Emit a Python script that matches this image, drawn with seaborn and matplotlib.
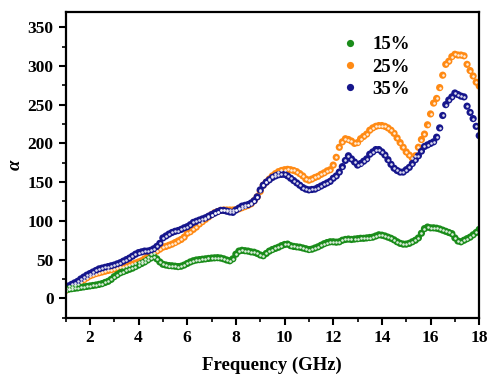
import numpy as np
import pandas as pd
import matplotlib
matplotlib.use("Agg")
import matplotlib.pyplot as plt
import seaborn as sns
from matplotlib.ticker import MultipleLocator

# ---- data (frequency grid 1..18 GHz, step 0.125) ----
freq_start, freq_step = 1.0, 0.125

alpha_15 = [
    11, 11.8, 12.5, 13, 13.5, 14.2, 14.8, 15.4,
    16, 16.6, 17.2, 18, 19, 20.5, 22, 24.5,
    28, 30.5, 33, 34.5, 36, 37.5, 39, 41,
    43, 45, 47, 49.5, 52, 54, 51, 47,
    44, 43, 42.3, 42, 41.5, 41, 41.5, 43,
    45, 47, 48.5, 49.5, 50, 50.5, 51, 51.5,
    52, 52.3, 52.5, 52, 51, 49.5, 48.5, 51,
    57, 61, 62, 61.5, 61, 60, 59.5, 58,
    56, 55, 58, 61, 63, 64.5, 66, 68,
    69.5, 70, 68, 67, 66.5, 66, 65, 64,
    63, 63.5, 65, 66.5, 68.5, 70.5, 72, 73,
    73, 72.5, 73, 75, 76, 76.5, 76, 76.5,
    77, 77.5, 77.5, 78, 78.5, 79, 80.5, 82,
    81.5, 80.5, 79, 77.5, 75.5, 73, 71, 70,
    70, 71, 73, 75, 78, 84, 90, 92,
    91, 91, 90.5, 89.5, 88, 86.5, 85, 83.5,
    78, 74, 73, 75, 77, 79, 82, 85,
    89,
]

alpha_25 = [
    10, 12.5, 15, 17, 19, 21.5, 24, 26.5,
    29, 30.5, 32, 33, 34, 35, 36, 37,
    38, 39, 40, 41, 42, 43, 44, 45.5,
    47, 48.5, 51, 54, 57, 59, 61, 63.5,
    66, 67, 68.5, 70, 72, 74, 76, 79,
    84, 86, 89, 92, 96, 99, 102, 105,
    108, 110.5, 112, 113.5, 114, 114, 114, 114,
    114.5, 115.5, 117, 118.5, 120, 122, 126, 131,
    138, 146, 150, 154, 158, 161, 163.5, 165,
    166, 166.5, 166, 165, 163.5, 161, 158, 154,
    152.5, 154, 156, 157.5, 160, 162, 164.5, 166,
    172, 182, 195, 202, 206, 205, 203, 200,
    201, 206, 209, 212, 217, 220, 222, 223,
    223, 222, 220, 217, 213, 207, 201, 195,
    189, 185, 181, 184, 195, 205, 212, 224,
    238, 252, 258, 272, 288, 302, 306, 312,
    315, 314, 314, 313, 302, 294, 287, 279,
    274,
]

alpha_35 = [
    14, 16, 18, 20, 22, 25, 27.5, 30,
    32, 34, 36, 38, 39, 40, 41, 42,
    43, 44.5, 46, 48, 50, 52, 54.5, 57,
    59, 60, 61, 61, 62, 64, 67, 71,
    78, 80.5, 83, 85, 86.5, 87.5, 89, 91,
    92.5, 95, 98, 99.5, 101, 102.5, 104, 106,
    108, 110, 112, 113.5, 113.5, 112.5, 111.5, 111,
    114, 116.5, 119, 120, 121, 123, 126, 131,
    140, 146, 150, 153, 156, 158, 159.5, 160,
    160, 158, 155, 152, 149, 146, 143, 141,
    140, 140.5, 141, 143, 145, 147, 149, 151,
    155, 158, 163, 170, 178, 184, 180, 176,
    172, 174, 177, 180, 186, 189, 192, 192,
    189, 185, 179, 173, 168, 165, 163, 163,
    166, 169, 174, 179, 184, 190, 196, 198,
    200, 202, 208, 220, 236, 250, 256, 260,
    265, 263, 261, 260, 248, 240, 232, 222,
    210,
]

labels = ["15%", "25%", "35%"]
colors = {"15%": "#1a8c1a", "25%": "#ff8a14", "35%": "#16168c"}

freq = freq_start + freq_step * np.arange(len(alpha_15))

# draw order: 25% first, then 35%, then 15% on top
frames = []
for lab, vals in [("25%", alpha_25), ("35%", alpha_35), ("15%", alpha_15)]:
    frames.append(pd.DataFrame({"Frequency": freq, "alpha": vals, "sample": lab}))
df = pd.concat(frames, ignore_index=True)

sns.set_style("ticks")
plt.rcParams["font.family"] = ["Liberation Serif", "DejaVu Serif"]
plt.rcParams["font.weight"] = "bold"
plt.rcParams["text.color"] = "black"
plt.rcParams["axes.labelcolor"] = "black"
plt.rcParams["xtick.color"] = "black"
plt.rcParams["ytick.color"] = "black"

fig = plt.figure(figsize=(4.89, 3.76), dpi=100)
ax = fig.add_axes([0.134, 0.155, 0.846, 0.814])

sns.scatterplot(data=df, x="Frequency", y="alpha", hue="sample",
                hue_order=labels, palette=colors, s=27, linewidth=0,
                ax=ax, legend=True)
sns.scatterplot(data=df, x="Frequency", y="alpha", color="white",
                s=3.5, linewidth=0, alpha=0.85, ax=ax, legend=False)

ax.set_xlim(1, 18)
ax.set_ylim(-25, 370)
ax.xaxis.set_major_locator(MultipleLocator(2))
ax.xaxis.set_minor_locator(MultipleLocator(1))
ax.yaxis.set_major_locator(MultipleLocator(50))
ax.yaxis.set_minor_locator(MultipleLocator(25))
ax.set_xticks(np.arange(2, 19, 2))

for side in ["top", "right", "left", "bottom"]:
    ax.spines[side].set_visible(True)
    ax.spines[side].set_linewidth(1.6)
    ax.spines[side].set_color("black")

ax.tick_params(which="major", direction="out", length=5, width=1.5,
               labelsize=12.5, top=False, right=False, colors="black")
ax.tick_params(which="minor", direction="out", length=3, width=1.2,
               top=False, right=False, colors="black")
for t in ax.get_xticklabels() + ax.get_yticklabels():
    t.set_fontweight("bold")

ax.set_xlabel("Frequency (GHz)", fontsize=13.5, fontweight="bold", labelpad=8,
              color="black")
ax.set_ylabel("α", fontsize=13.5, fontweight="bold", style="italic", labelpad=3,
              color="black")

handles, labs = ax.get_legend_handles_labels()
leg = ax.legend(handles, labs, loc="upper left", bbox_to_anchor=(0.62, 0.975),
                frameon=False, fontsize=13.5, handletextpad=0.6,
                labelspacing=0.28, handlelength=1.2, markerscale=1.0)
for t in leg.get_texts():
    t.set_fontweight("bold")
    t.set_color("black")

fig.savefig("out.png", dpi=100)
